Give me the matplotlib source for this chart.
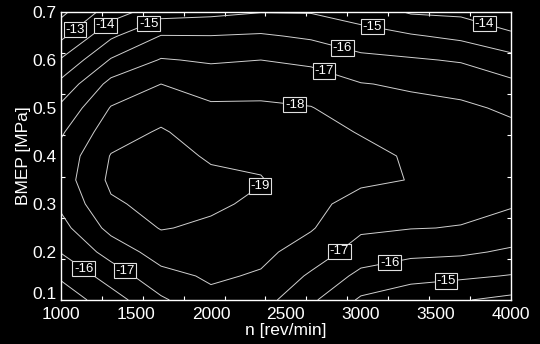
import numpy as np
import matplotlib
matplotlib.use('Agg')
import matplotlib.pyplot as plt
import matplotlib.transforms as mtransforms
from matplotlib.ticker import FixedLocator

# engine speed [rev/min] and load [MPa] grid
n_rpm = [1000, 1333, 1667, 2000, 2333, 2667, 3000, 3333, 3667, 4000]
bmep = [0.10, 0.15, 0.20, 0.25, 0.30, 0.35, 0.40, 0.45, 0.50, 0.55, 0.60, 0.65, 0.70]

# map values, one row per bmep value
z_map = [
    [-14.40, -15.55, -16.85, -17.75, -17.40, -16.18, -14.85, -14.48, -14.07, -13.75],
    [-15.15, -16.44, -17.68, -18.14, -17.90, -16.85, -15.73, -15.27, -15.17, -14.95],
    [-16.05, -17.38, -18.46, -18.49, -18.24, -17.56, -16.55, -16.27, -16.16, -15.86],
    [-16.67, -18.30, -19.05, -18.85, -18.53, -18.08, -17.17, -17.03, -16.97, -16.58],
    [-17.19, -18.86, -19.30, -19.15, -18.83, -18.29, -17.60, -17.50, -17.20, -17.10],
    [-17.50, -19.20, -19.45, -19.20, -19.05, -18.47, -18.20, -17.97, -17.40, -17.30],
    [-17.35, -19.05, -19.35, -18.89, -18.81, -18.45, -18.25, -17.90, -17.48, -17.33],
    [-16.87, -18.58, -19.10, -18.52, -18.48, -18.30, -17.95, -17.50, -17.35, -17.20],
    [-16.22, -18.06, -18.60, -18.15, -18.15, -18.04, -17.47, -17.25, -17.15, -16.87],
    [-15.27, -17.32, -18.00, -17.59, -17.65, -17.48, -17.04, -16.88, -16.71, -16.22],
    [-14.10, -16.09, -17.07, -16.89, -17.00, -16.81, -16.28, -16.11, -15.91, -15.34],
    [-12.75, -14.84, -16.04, -16.02, -16.12, -15.85, -15.36, -15.10, -14.78, -14.23],
    [-11.75, -13.50, -14.60, -14.75, -14.97, -14.95, -14.60, -13.90, -13.80, -13.10],
]

levels = [-19, -18, -17, -16, -15, -14, -13, -12]

# where the labels sit (rpm, MPa)
label_spots = [
    (1100, 0.660), (1300, 0.671), (1580, 0.679), (3073, 0.662), (3820, 0.673),
    (2880, 0.629), (2760, 0.583), (2560, 0.512), (2327, 0.338),
    (2860, 0.200), (3193, 0.175), (3567, 0.140), (1140, 0.160), (1413, 0.154),
]

x_labels = [1000, 1500, 2000, 2500, 3000, 3500, 4000]
y_labels = [0.1, 0.2, 0.3, 0.4, 0.5, 0.6, 0.7]

plt.rcParams['font.family'] = ['Liberation Sans', 'DejaVu Sans']
plt.rcParams['contour.negative_linestyle'] = 'solid'

fig = plt.figure(figsize=(5.4, 3.44), dpi=100, facecolor='black')
ax = fig.add_axes([0.113, 0.128, 0.833, 0.837])
ax.set_facecolor('black')

X, Y = np.meshgrid(n_rpm, bmep)
cs = ax.contour(X, Y, np.array(z_map), levels=levels, colors='#d0d0d0',
                linewidths=0.7, linestyles='solid')
texts = ax.clabel(cs, inline=False, fmt='%d', fontsize=9.5,
                  colors='white', manual=label_spots)
for t in texts:
    t.set_rotation(0)
    t.set_zorder(5)
    t.set_bbox(dict(boxstyle='square,pad=0.12', facecolor='black',
                    edgecolor='#e0e0e0', linewidth=0.8))

ax.set_xlim(1000, 4000)
ax.set_ylim(0.1, 0.7)
ax.set_xticks(x_labels)
ax.set_yticks(y_labels)
ax.set_yticklabels(['%.1f' % v for v in y_labels])
ax.xaxis.set_minor_locator(FixedLocator(np.linspace(1000, 4000, 12)))
ax.yaxis.set_minor_locator(FixedLocator(np.linspace(0.1, 0.7, 8)))
ax.tick_params(which='major', length=0, colors='white', labelsize=12.5)
ax.tick_params(axis='x', which='major', pad=5)
ax.tick_params(axis='y', which='major', pad=3)
ax.tick_params(which='minor', direction='in', length=3, width=0.8, color='white',
               top=True, right=True)
for s in ax.spines.values():
    s.set_color('white')
    s.set_linewidth(1.0)

# lift the lowest y label a little so it clears "1000"
lift = mtransforms.ScaledTranslation(0, 5 / 72, fig.dpi_scale_trans)
lab0 = ax.get_yticklabels()[0]
lab0.set_transform(lab0.get_transform() + lift)

ax.set_xlabel('n [rev/min]', color='white', fontsize=12.5, labelpad=1)
ax.set_ylabel('BMEP [MPa]', color='white', fontsize=12.5, labelpad=1)

fig.savefig('out.png', dpi=100, facecolor='black')
